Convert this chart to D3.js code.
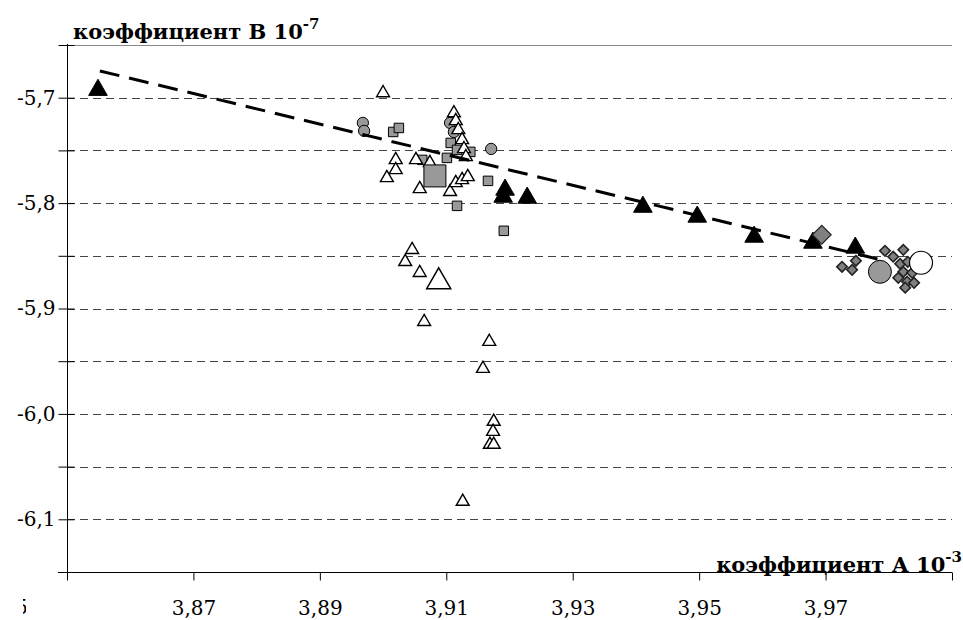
<!DOCTYPE html>
<html><head><meta charset="utf-8">
<script src="https://cdn.jsdelivr.net/npm/d3@7"></script>
<style>
body{margin:0;background:#fff}
svg{display:block}
</style>
</head><body>
<svg id="c" width="963" height="620"></svg>
<script>
// ---- axis ticks / labels ----
const xTickValues = [3.85, 3.87, 3.89, 3.91, 3.93, 3.95, 3.97, 3.99];
const xTickLabels = ["", "3,87", "3,89", "3,91", "3,93", "3,95", "3,97", ""];
const yTickValues = [-6.15, -6.1, -6.05, -6.0, -5.95, -5.9, -5.85, -5.8, -5.75, -5.7, -5.65];
const yTickLabels = ["", "-6,1", "", "-6,0", "", "-5,9", "", "-5,8", "", "-5,7", ""];
const yGridValues = [-6.1, -6.05, -6.0, -5.95, -5.9, -5.85, -5.8, -5.75, -5.7];
const yTitle = "коэффициент В 10";
const yTitleExp = "-7";
const xTitle = "коэффициент А 10";
const xTitleExp = "-3";

// ---- series ----
const blackTriangles = [
  [3.8549, -5.6927], [3.9193, -5.7874], [3.9190, -5.7941], [3.9228, -5.7950],
  [3.9411, -5.8036], [3.9497, -5.8130], [3.9587, -5.8320], [3.9680, -5.8377],
  [3.9747, -5.8424]
];
const whiteTriangles = [
  [3.9000, -5.6955], [3.9112, -5.7145], [3.9115, -5.7220], [3.9119, -5.7306],
  [3.9125, -5.7400], [3.9128, -5.7486], [3.9131, -5.7562], [3.9020, -5.7590],
  [3.9020, -5.7685], [3.9006, -5.7761], [3.9052, -5.7590], [3.9074, -5.7618],
  [3.9058, -5.7865], [3.9106, -5.7893], [3.9115, -5.7808], [3.9125, -5.7780],
  [3.9134, -5.7751], [3.9046, -5.8443], [3.9035, -5.8557], [3.9058, -5.8661],
  [3.9065, -5.9126], [3.9168, -5.9315], [3.9158, -5.9571], [3.9175, -6.0073],
  [3.9174, -6.0168], [3.9169, -6.0291], [3.9175, -6.0291], [3.9126, -6.0832]
];
const whiteTriangleMean = [[3.9088, -5.8746]];
const grayCircles = [
  [3.8968, -5.7239], [3.8970, -5.7315], [3.9106, -5.7239], [3.9112, -5.7325],
  [3.9171, -5.7486]
];
const grayCircleMean = [[3.9786, -5.8652]];
const whiteCircleMean = [[3.9851, -5.8566]];
const graySquares = [
  [3.9016, -5.7325], [3.9025, -5.7287], [3.9062, -5.7590], [3.9101, -5.7571],
  [3.9107, -5.7429], [3.9117, -5.7495], [3.9138, -5.7514], [3.9166, -5.7789],
  [3.9117, -5.8026], [3.9191, -5.8263]
];
const graySquareMean = [[3.9082, -5.7742]];
const grayDiamonds = [
  [3.9726, -5.8604], [3.9742, -5.8633], [3.9748, -5.8547], [3.9794, -5.8453],
  [3.9807, -5.8509], [3.9823, -5.8443], [3.9818, -5.8576], [3.9823, -5.8652],
  [3.9815, -5.8709], [3.9829, -5.8746], [3.9826, -5.8803], [3.9840, -5.8756],
  [3.9837, -5.8661], [3.9830, -5.8557]
];
const grayDiamondMean = [[3.9694, -5.8301]];
const trendLine = [[3.8552, -5.6746], [3.9794, -5.8547]];

// ---- drawing ----
const FONT = "'DejaVu Serif', 'Liberation Serif', serif";
const svg = d3.select("#c").style("font-family", FONT);
const x = d3.scaleLinear().domain([3.85, 3.99]).range([67, 952]);
const y = d3.scaleLinear().domain([-6.15, -5.65]).range([572, 45]);

// grid
svg.append("g").selectAll("line").data(yGridValues).join("line")
  .attr("x1", x(3.85)).attr("x2", x(3.99))
  .attr("y1", d => Math.round(y(d)) + 0.5).attr("y2", d => Math.round(y(d)) + 0.5)
  .attr("stroke", "#444").attr("stroke-width", 1).attr("stroke-dasharray", "8,5");
svg.append("line")
  .attr("x1", x(3.85)).attr("x2", x(3.99))
  .attr("y1", Math.round(y(-5.65)) + 0.5).attr("y2", Math.round(y(-5.65)) + 0.5)
  .attr("stroke", "#888").attr("stroke-width", 1);

// x axis
const gx = svg.append("g").attr("transform", `translate(0,${Math.round(y(-6.15)) + 0.5})`)
  .call(d3.axisBottom(x).tickValues(xTickValues).tickSize(8).tickPadding(20)
    .tickFormat((d, i) => xTickLabels[i]));
gx.attr("font-family", null);
gx.select(".domain").remove();
gx.selectAll("line").attr("stroke", "#000");
gx.selectAll("text").style("font-family", FONT).style("font-size", "20px");
gx.append("line").attr("x1", 58).attr("x2", x(3.99)).attr("stroke", "#000");

// partially visible first label (clipped as in the original)
const clip = svg.append("clipPath").attr("id", "cl");
clip.append("rect").attr("x", 23).attr("y", 590).attr("width", 3).attr("height", 30);
svg.append("text").attr("clip-path", "url(#cl)")
  .attr("x", 28).attr("y", 614).attr("text-anchor", "end")
  .style("font-family", FONT).style("font-size", "20px")
  .text("3,85");

// y axis
const gy = svg.append("g").attr("transform", `translate(${Math.round(x(3.85)) + 0.5},0)`)
  .call(d3.axisLeft(y).tickValues(yTickValues).tickSize(9).tickPadding(3)
    .tickFormat((d, i) => yTickLabels[i]));
gy.attr("font-family", null);
gy.select(".domain").remove();
gy.selectAll(".tick line").attr("x1", 7).attr("stroke", "#000");
gy.selectAll("text").style("font-family", FONT).style("font-size", "20px");
gy.append("line").attr("y1", 44).attr("y2", 580).attr("stroke", "#000");

// helper to draw symbol series
function series(data, type, size, fill, stroke, sw, rot) {
  svg.append("g").selectAll("path").data(data).join("path")
    .attr("d", d3.symbol().type(type).size(size)())
    .attr("transform", d => `translate(${x(d[0])},${y(d[1])})${rot ? " rotate(45)" : ""}`)
    .attr("fill", fill).attr("stroke", stroke).attr("stroke-width", sw);
}

series(graySquares, d3.symbolSquare, 90, "#999", "#000", 1);
series(grayCircles, d3.symbolCircle, 100, "#999", "#000", 1);
series(whiteTriangles, d3.symbolTriangle, 72, "#fff", "#000", 1.4);
series(graySquareMean, d3.symbolSquare, 484, "#999", "#000", 1);
series(whiteTriangleMean, d3.symbolTriangle, 250, "#fff", "#000", 1.5);
series(blackTriangles, d3.symbolTriangle, 150, "#000", "#000", 1);
series(grayDiamonds, d3.symbolSquare, 55, "#808080", "#222", 1.6, true);
series(grayDiamondMean, d3.symbolSquare, 175, "#808080", "#222", 1.2, true);
series(grayCircleMean, d3.symbolCircle, 415, "#999", "#000", 1);
series(whiteCircleMean, d3.symbolCircle, 415, "#fff", "#000", 1.2);

// trend line
svg.append("path").datum(trendLine)
  .attr("d", d3.line().x(d => x(d[0])).y(d => y(d[1])))
  .attr("fill", "none").attr("stroke", "#000").attr("stroke-width", 3)
  .attr("stroke-dasharray", "20,10");

// titles
const ty = svg.append("text").attr("x", 73).attr("y", 39)
  .style("font-family", FONT).style("font-size", "21px").style("font-weight", "bold");
ty.append("tspan").text(yTitle);
ty.append("tspan").attr("dy", -10).style("font-size", "15px").text(yTitleExp);

const tx = svg.append("text").attr("x", 962).attr("y", 572)
  .attr("text-anchor", "end")
  .style("font-family", FONT).style("font-size", "21px").style("font-weight", "bold");
tx.append("tspan").text(xTitle);
tx.append("tspan").attr("dy", -10).style("font-size", "15px").text(xTitleExp);
</script>
</body></html>
